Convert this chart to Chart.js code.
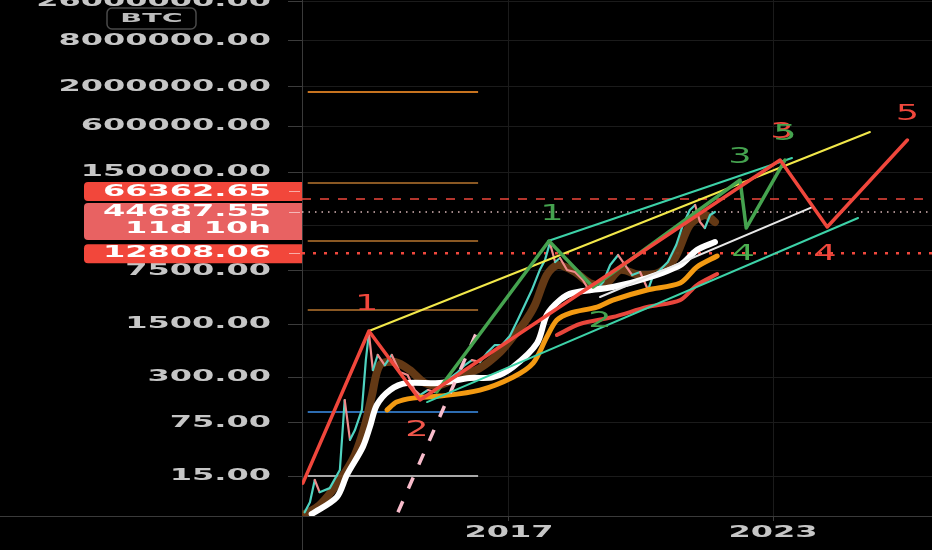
<!DOCTYPE html>
<html>
<head>
<meta charset="utf-8">
<script src="https://cdn.jsdelivr.net/npm/chart.js@4.4.1/dist/chart.umd.min.js"></script>
<style>
  html, body { margin: 0; padding: 0; background: #000; overflow: hidden; }
  canvas { display: block; }
</style>
</head>
<body>
<canvas id="btcChart" width="932" height="550"></canvas>
<script>
// axes
const Y_TICKS = [15, 75, 300, 1500, 7500, 30000, 150000, 600000, 2000000, 8000000, 26000000];
const X_TICKS = [2017, 2023];
const Y_MIN = 4.47, Y_MAX = 27500000;
const X_MIN = 2012.3, X_MAX = 2026.61;

// BTC price path
const priceYears = [2012.36, 2012.48, 2012.59, 2012.70, 2012.93,
  2013.16, 2013.27, 2013.39, 2013.50, 2013.66, 2013.75, 2013.82, 2013.91,
  2014.02, 2014.18, 2014.34, 2014.52, 2014.70, 2014.86, 2014.98,
  2015.16, 2015.32, 2015.50, 2015.66, 2015.84,
  2016.00, 2016.16, 2016.34, 2016.52, 2016.68, 2016.84,
  2017.02, 2017.20, 2017.36, 2017.52, 2017.70, 2017.82, 2017.93,
  2018.05, 2018.16, 2018.32, 2018.50, 2018.68, 2018.84, 2018.98,
  2019.14, 2019.30, 2019.48, 2019.64, 2019.80, 2019.98,
  2020.16, 2020.27, 2020.43, 2020.61, 2020.80, 2020.95,
  2021.11, 2021.23, 2021.34, 2021.45, 2021.57, 2021.68];
const priceValues = [5.0, 6.8, 13.3, 9.2, 10.4,
  18, 150, 45, 60, 111, 503, 1142, 372,
  587, 433, 587, 350, 320, 203, 174,
  203, 191, 251, 292, 350,
  433, 503, 474, 642, 794, 794,
  1043, 1693, 2667, 4200, 7700, 10470, 17460,
  9815, 11080, 7700, 7250, 5690, 3954, 4200,
  5355, 8960, 12130, 8960, 6620, 7250,
  4200, 6420, 7700, 9815, 16430, 30100,
  47400, 55200, 33000, 27500, 40760, 44700];

// moving averages
const brownYears = [2012.36, 2012.70, 2013.16, 2013.50, 2013.73, 2013.89, 2014.07, 2014.41, 2014.75,
  2015.09, 2015.43, 2015.89, 2016.34, 2016.80, 2017.09, 2017.36, 2017.59, 2017.86, 2018.11,
  2018.50, 2018.84, 2019.18, 2019.52, 2019.98, 2020.43, 2020.77, 2021.11, 2021.45, 2021.68];
const brownValues = [4.74, 6.2, 13.3, 28.3, 70, 174, 433, 474, 372,
  251, 236, 310, 395, 642, 1012, 1595, 2667, 6620, 8960,
  7250, 5190, 4890, 7700, 6620, 7250, 11080, 30100, 40760, 33000];
const whiteYears = [2012.52, 2013.09, 2013.32, 2013.68, 2013.84, 2014.00, 2014.30, 2014.68, 2015.43, 2016.11,
  2016.64, 2017.09, 2017.64, 2017.86, 2018.16, 2018.45, 2019.36, 2020.14, 2020.89, 2021.27, 2021.68];
const whiteValues = [4.74, 7.9, 15.5, 36, 66, 129, 203, 251, 251, 292,
  300, 408, 843, 1970, 3105, 3840, 4600, 6050, 8960, 14110, 18000];
const orangeYears = [2014.23, 2014.45, 2014.82, 2015.43, 2016.34, 2017.09, 2017.55, 2017.86,
  2018.09, 2018.39, 2019.00, 2019.36, 2020.14, 2020.89, 2021.27, 2021.73];
const orangeValues = [111, 141, 159, 169, 203, 300, 460, 1012,
  1693, 2094, 2510, 3100, 4200, 5190, 8430, 11770];
const redMaYears = [2018.09, 2018.61, 2019.36, 2020.14, 2020.89, 2021.27, 2021.73];
const redMaValues = [1075, 1500, 1854, 2510, 3100, 4890, 6820];

// elliott waves
const redWaveYears = [2012.32, 2013.82, 2014.98, 2023.16, 2024.23, 2026.05];
const redWaveValues = [12.1, 1213, 150, 215800, 28350, 395500];
const greenWaveYears = [2015.36, 2017.91, 2018.91, 2022.25, 2022.39, 2023.27];
const greenWaveValues = [191, 18540, 4600, 117800, 27500, 215800];

// trend lines
const yellowYears = [2013.82, 2025.20], yellowValues = [1213, 504000];
const tealUpYears = [2017.89, 2023.43], tealUpValues = [18540, 229000];
const tealLowYears = [2015.14, 2024.93], tealLowValues = [141, 37240];
const whiteTrendYears = [2019.07, 2023.89], whiteTrendValues = [3400, 51900];
const pinkYears = [2014.48, 2016.34], pinkValues = [5.0, 1455];

// short horizontal levels on the left
const LEVEL_PRICES = [1700000, 107500, 18500, 2300, 104, 15];
const LEVEL_COLORS = ['#c7731f', '#8a5823', '#8a5823', '#8a5823', '#2d6cb0', '#a8a8a8'];
const LEVEL_SPAN = [2012.43, 2016.30];

// price lines + badges
const MARK_PRICES = [66362.65, 44687.55, 12808.06];
const MARK_SUB = ['', '11d 10h', ''];

// wave labels
const WAVE_TEXT = ['1', '2', '1', '2', '3', '3', '5', '4', '4', '5'];
const WAVE_YEARS = [2013.77, 2014.91, 2017.98, 2019.07, 2022.25, 2023.20, 2023.27, 2022.32, 2024.18, 2026.05];
const WAVE_PRICES = [2667, 60, 40760, 1595, 236000, 489000, 460000, 12130, 12130, 843000];
const WAVE_COLORS = ['#f0473c', '#f0574c', '#45a34f', '#45a34f', '#45a34f', '#f0473c', '#45a34f', '#4caf50', '#f0473c', '#f0473c'];

const RED = '#f0473c', GREEN = '#45a34f', TEAL = '#3dd2a8';

function series(years, values, style) {
  return Object.assign({
    data: years.map((x, i) => ({ x, y: values[i] })),
    pointRadius: 0, pointHoverRadius: 0, fill: false, tension: 0,
    borderCapStyle: 'round', borderJoinStyle: 'round'
  }, style);
}

const datasets = [];
LEVEL_PRICES.forEach((p, i) => datasets.push(series(LEVEL_SPAN, [p, p],
  { borderColor: LEVEL_COLORS[i], borderWidth: 2, borderCapStyle: 'butt', order: 100 })));
datasets.push(series([X_MIN, X_MAX], [MARK_PRICES[0], MARK_PRICES[0]],
  { borderColor: RED, borderWidth: 1.5, borderDash: [9, 9], borderCapStyle: 'butt', order: 90 }));
datasets.push(series([X_MIN, X_MAX], [MARK_PRICES[1], MARK_PRICES[1]],
  { borderColor: 'rgba(255,215,215,0.85)', borderWidth: 1.5, borderDash: [1.5, 5], borderCapStyle: 'butt', order: 90 }));
datasets.push(series([X_MIN, X_MAX], [MARK_PRICES[2], MARK_PRICES[2]],
  { borderColor: RED, borderWidth: 2.5, borderDash: [3, 8], borderCapStyle: 'butt', order: 90 }));

datasets.push(series(brownYears, brownValues, { borderColor: 'rgba(105,60,22,0.95)', borderWidth: 8, tension: 0.3, order: 80 }));
datasets.push(series(priceYears, priceValues, {
  borderWidth: 2.2, order: 70, borderColor: '#4fd3c0',
  segment: { borderColor: c => c.p1.parsed.y >= c.p0.parsed.y ? '#4fd3c0' : '#f08a8a' }
}));
datasets.push(series(redMaYears, redMaValues, { borderColor: '#e8463c', borderWidth: 4, tension: 0.3, order: 62 }));
datasets.push(series(orangeYears, orangeValues, { borderColor: '#f39a12', borderWidth: 5, tension: 0.3, order: 61 }));
datasets.push(series(whiteYears, whiteValues, { borderColor: '#ffffff', borderWidth: 6, tension: 0.3, order: 60 }));
datasets.push(series(whiteTrendYears, whiteTrendValues, { borderColor: '#e8e8e8', borderWidth: 2, order: 50 }));
datasets.push(series(pinkYears, pinkValues, { borderColor: '#f8bccb', borderWidth: 3.5, borderDash: [12, 14], borderCapStyle: 'butt', order: 45 }));
datasets.push(series(tealUpYears, tealUpValues, { borderColor: TEAL, borderWidth: 2, order: 40 }));
datasets.push(series(tealLowYears, tealLowValues, { borderColor: TEAL, borderWidth: 2, order: 40 }));
datasets.push(series(yellowYears, yellowValues, { borderColor: '#f2e84a', borderWidth: 2, order: 35 }));
datasets.push(series(greenWaveYears, greenWaveValues, { borderColor: GREEN, borderWidth: 3.5, order: 30 }));
datasets.push(series(redWaveYears, redWaveValues, { borderColor: RED, borderWidth: 3.5, order: 20 }));

const FONT = 'bold 16px "DejaVu Sans"';
const SX = 2.0;

function stretchText(ctx, txt, x, y, align, font, color, sx) {
  ctx.save();
  ctx.translate(x, y);
  ctx.scale(sx, 1);
  ctx.font = font;
  ctx.fillStyle = color;
  ctx.textAlign = align;
  ctx.textBaseline = 'middle';
  ctx.fillText(txt, 0, 0);
  ctx.restore();
}

const BADGES = [
  { top: -17, h: 19, fill: '#f2473b' },
  { top: -9, h: 37, fill: '#e86262' },
  { top: -9, h: 19, fill: '#f2473b' }
];

const overlay = {
  id: 'overlay',
  beforeDatasetsDraw(chart) {
    const { ctx, chartArea, width, height } = chart;
    ctx.save();
    ctx.strokeStyle = '#3a3a3a';
    ctx.lineWidth = 1;
    ctx.beginPath();
    ctx.moveTo(chartArea.left + 0.5, 0);
    ctx.lineTo(chartArea.left + 0.5, height);
    ctx.moveTo(0, chartArea.bottom + 0.5);
    ctx.lineTo(width, chartArea.bottom + 0.5);
    ctx.stroke();
    ctx.restore();
  },
  afterDraw(chart) {
    const { ctx, chartArea } = chart;
    const xs = chart.scales.x, ys = chart.scales.y;

    // wave labels
    WAVE_TEXT.forEach((t, i) => {
      stretchText(ctx, t, xs.getPixelForValue(WAVE_YEARS[i]), ys.getPixelForValue(WAVE_PRICES[i]),
        'center', '21px "DejaVu Sans"', WAVE_COLORS[i], 1.75);
    });

    // y labels
    ys.ticks.forEach(t => {
      stretchText(ctx, t.value.toFixed(2), chartArea.left - 31, ys.getPixelForValue(t.value), 'right', FONT, '#c6c6c6', SX);
    });
    // x labels
    xs.ticks.forEach(t => {
      stretchText(ctx, String(t.value), xs.getPixelForValue(t.value), chartArea.bottom + 17, 'center', FONT, '#c6c6c6', SX);
    });

    // price badges
    MARK_PRICES.forEach((p, i) => {
      const y = ys.getPixelForValue(p);
      const b = BADGES[i];
      ctx.save();
      ctx.fillStyle = b.fill;
      ctx.beginPath();
      ctx.roundRect(84, y + b.top, chartArea.left - 84, b.h, [4, 0, 0, 4]);
      ctx.fill();
      const ty = i === 0 ? y + b.top + b.h / 2 : y;
      ctx.strokeStyle = 'rgba(255,255,255,0.55)';
      ctx.lineWidth = 1;
      ctx.beginPath();
      ctx.moveTo(289, Math.round(ty) + 0.5);
      ctx.lineTo(300, Math.round(ty) + 0.5);
      ctx.stroke();
      ctx.restore();
      stretchText(ctx, p.toFixed(2), 271, ty, 'right', FONT, '#ffffff', SX);
      if (MARK_SUB[i]) stretchText(ctx, MARK_SUB[i], 271, ty + 17, 'right', FONT, '#ffffff', SX);
    });

    // BTC box
    ctx.save();
    ctx.fillStyle = '#000';
    ctx.strokeStyle = '#4a4a4a';
    ctx.lineWidth = 1.5;
    ctx.beginPath();
    ctx.roundRect(107, 8, 89, 21, 5);
    ctx.fill();
    ctx.stroke();
    ctx.restore();
    stretchText(ctx, 'BTC', 151.5, 19, 'center', 'bold 13px "DejaVu Sans"', '#bdbdbd', 2.2);
  }
};

new Chart(document.getElementById('btcChart'), {
  type: 'line',
  data: { datasets },
  options: {
    responsive: false,
    animation: false,
    devicePixelRatio: 1,
    layout: { padding: 0 },
    plugins: { legend: { display: false }, tooltip: { enabled: false } },
    scales: {
      x: {
        type: 'linear', min: X_MIN, max: X_MAX,
        afterBuildTicks: s => { s.ticks = X_TICKS.map(v => ({ value: v })); },
        afterFit: s => { s.height = 34; },
        ticks: { display: false },
        grid: { color: '#1b1b1b', tickColor: '#3c3c3c', tickLength: 5 },
        border: { display: false }
      },
      y: {
        type: 'logarithmic', min: Y_MIN, max: Y_MAX,
        afterBuildTicks: s => { s.ticks = Y_TICKS.map(v => ({ value: v })); },
        afterFit: s => { s.width = 302; },
        ticks: { display: false },
        grid: { color: '#1b1b1b', tickColor: '#3c3c3c', tickLength: 14 },
        border: { display: false }
      }
    }
  },
  plugins: [overlay]
});
</script>
</body>
</html>
